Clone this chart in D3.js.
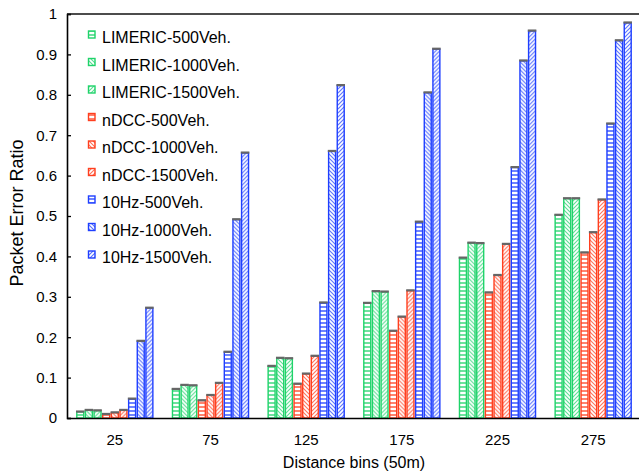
<!DOCTYPE html>
<html>
<head>
<meta charset="utf-8">
<script src="https://cdn.jsdelivr.net/npm/d3@7"></script>
<style>
html,body{margin:0;padding:0;background:#fff;}
svg{display:block;font-family:"Liberation Sans",Arial,sans-serif;}
</style>
</head>
<body>
<svg id="chart" width="639" height="472"></svg>
<script>
const categories = ["25","75","125","175","225","275"];
const seriesNames = ["LIMERIC-500Veh.","LIMERIC-1000Veh.","LIMERIC-1500Veh.","nDCC-500Veh.","nDCC-1000Veh.","nDCC-1500Veh.","10Hz-500Veh.","10Hz-1000Veh.","10Hz-1500Veh."];
const limeric500  = [0.015,0.071,0.128,0.284,0.396,0.502];
const limeric1000 = [0.019,0.081,0.148,0.313,0.433,0.543];
const limeric1500 = [0.018,0.080,0.147,0.312,0.432,0.543];
const ndcc500     = [0.009,0.043,0.084,0.215,0.310,0.409];
const ndcc1000    = [0.013,0.056,0.109,0.250,0.353,0.459];
const ndcc1500    = [0.019,0.086,0.153,0.315,0.430,0.540];
const hz500       = [0.047,0.163,0.285,0.485,0.620,0.728];
const hz1000      = [0.190,0.491,0.660,0.805,0.884,0.934];
const hz1500      = [0.272,0.656,0.823,0.913,0.958,0.978];
const yTicks = [0,0.1,0.2,0.3,0.4,0.5,0.6,0.7,0.8,0.9,1];

const seriesValues = [limeric500,limeric1000,limeric1500,ndcc500,ndcc1000,ndcc1500,hz500,hz1000,hz1500];
const colors = ["#1fd36a","#1fd36a","#1fd36a","#ff3f1f","#ff3f1f","#ff3f1f","#1f3fff","#1f3fff","#1f3fff"];
const hatch = ["h","b","f","h","b","f","h","b","f"];

const svg = d3.select("#chart");
const m = {left:67, top:14, bottom:418, right:641};

const x0 = d3.scaleBand().domain(categories).range([m.left, m.right]).paddingInner(0.18).paddingOuter(0.09);
const x1 = d3.scaleBand().domain(d3.range(seriesNames.length)).range([0, x0.bandwidth()]).padding(0.08);
const y = d3.scaleLinear().domain([0,1]).range([m.bottom, m.top]);

// patterns
const defs = svg.append("defs");
seriesNames.forEach((n,i)=>{
  const p = defs.append("pattern").attr("id","pat"+i).attr("patternUnits","userSpaceOnUse")
    .attr("width",4).attr("height",4);
  p.append("rect").attr("width",4).attr("height",4).attr("fill","#fff");
  if (hatch[i]==="h") {
    p.append("line").attr("x1",0).attr("x2",4).attr("y1",3).attr("y2",3)
      .attr("stroke",colors[i]).attr("stroke-width",1.3);
  } else if (hatch[i]==="b") {
    p.append("path").attr("d","M-1,-1 L5,5 M-1,3 L1,5 M3,-1 L5,1")
      .attr("stroke",colors[i]).attr("stroke-opacity",0.75).attr("stroke-width",1.1);
  } else {
    p.append("path").attr("d","M-1,5 L5,-1 M-1,1 L1,-1 M3,5 L5,3")
      .attr("stroke",colors[i]).attr("stroke-opacity",0.75).attr("stroke-width",1.1);
  }
});

// bars
const groups = svg.append("g").selectAll("g").data(categories).join("g")
  .attr("transform", d=>`translate(${x0(d)},0)`);
groups.each(function(cat, ci){
  const g = d3.select(this);
  seriesValues.forEach((vals, si)=>{
    const v = vals[ci];
    const bx = x1(si), bw = x1.bandwidth();
    g.append("rect").attr("x",bx+0.5).attr("y",y(v)).attr("width",bw-1).attr("height",y(0)-y(v))
      .attr("fill","url(#pat"+si+")").attr("stroke",colors[si]).attr("stroke-width",1.4);
    g.append("rect").attr("x",bx-0.3).attr("y",y(v)-1.5).attr("width",bw+0.6).attr("height",2.2)
      .attr("fill","#666");
  });
});

// axes
const yAxis = d3.axisLeft(y).tickValues(yTicks).tickSize(-4).tickPadding(10)
  .tickFormat(d=> d===0 ? "0" : d===1 ? "1" : d3.format(".1f")(d));
const gy = svg.append("g").attr("transform",`translate(${m.left},0)`).call(yAxis);
gy.select(".domain").attr("stroke","#000").attr("stroke-width",1.6);
gy.selectAll(".tick line").attr("stroke","#000").attr("stroke-width",1.3);
gy.selectAll("text").attr("font-size",15).attr("fill","#000").attr("font-family","Liberation Sans, Arial, sans-serif");

const xAxis = d3.axisBottom(x0).tickSize(0).tickPadding(16);
const gx = svg.append("g").attr("transform",`translate(0,${m.bottom})`).call(xAxis);
gx.select(".domain").attr("stroke","#000").attr("stroke-width",1.6);
gx.selectAll("text").attr("font-size",15).attr("fill","#000").attr("font-family","Liberation Sans, Arial, sans-serif");

svg.append("line").attr("x1",m.left).attr("x2",639).attr("y1",m.top).attr("y2",m.top)
  .attr("stroke","#111").attr("stroke-width",1.6);

// titles
svg.append("text").attr("x",354).attr("y",468).attr("text-anchor","middle")
  .attr("font-size",16).text("Distance bins (50m)");
svg.append("text").attr("transform","translate(23,213) rotate(-90)").attr("text-anchor","middle")
  .attr("font-size",18).text("Packet Error Ratio");

// legend
const leg = svg.append("g");
seriesNames.forEach((n,i)=>{
  const ly = 37 + i*27.5;
  leg.append("rect").attr("x",88.5).attr("y",ly-6).attr("width",6.5).attr("height",7)
    .attr("fill","url(#pat"+i+")").attr("stroke",colors[i]).attr("stroke-width",1.4);
  leg.append("text").attr("x",102).attr("y",ly+6).attr("font-size",16).attr("fill","#000").text(n);
});
</script>
</body>
</html>
